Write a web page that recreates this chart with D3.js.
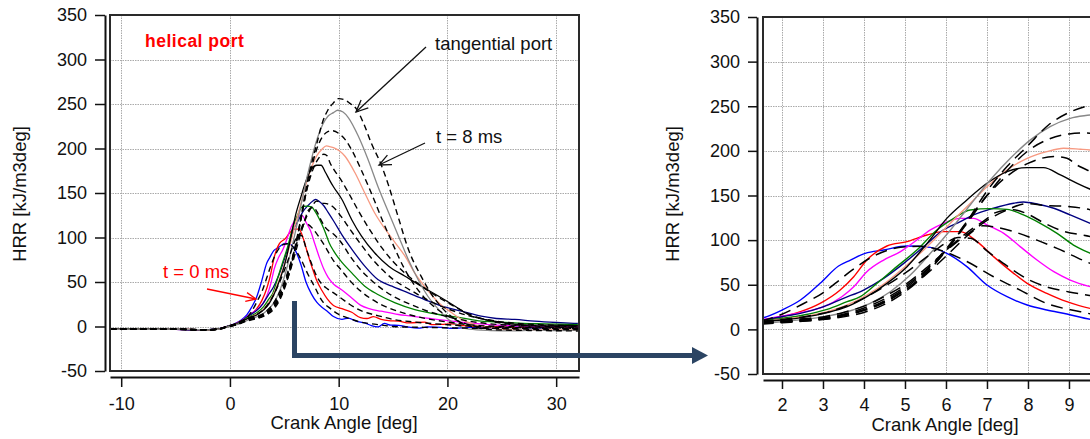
<!DOCTYPE html>
<html><head><meta charset="utf-8">
<script src="https://cdn.jsdelivr.net/npm/d3@7"></script>
<style>
html,body{margin:0;padding:0;background:#fff;overflow:hidden}
svg{display:block}
text{font-family:"Liberation Sans",Arial,sans-serif;fill:#111}
</style></head><body>
<svg id="chart" width="1090" height="439"></svg>
<script>
// Heat release rate [kJ/m3deg] vs crank angle [deg]
// Helical port runs (solid), injection timing t = 0 ... 8 ms
const helicalT0 = [[-11,-2.8],[-9,-3],[-7,-2.6],[-5,-3.2],[-3,-3.6],[-2,-3.8],[-1,-2.5],[-0.3,0],[0.5,3.5],[1.0,7],[1.55,13],[2.0,21.7],[2.45,32.9],[2.93,51.6],[3.38,71],[3.67,77.7],[4.03,85.2],[4.48,88.9],[5.05,93.4],[5.62,91.9],[6.02,85.2],[6.51,70.3],[7.0,49.7],[7.49,36.6],[7.98,27.3],[8.46,21.7],[8.95,17.2],[9.52,11.2],[10.3,8],[10.9,9.5],[11.6,6],[12.4,4],[13.0,1],[13.6,-0.5],[14.2,3.5],[14.8,1.5],[15.5,1.3],[16.3,-0.5],[17.3,-1.9],[18.2,-0.5],[19.5,-1],[20.5,-2.2],[22,-1],[24,-1.5],[26,-0.5],[28,-1.5],[30,-0.8],[32,-1]];
const helicalT1 = [[-11,-3],[-9,-2.8],[-7,-3.1],[-5,-2.9],[-3,-3.5],[-2,-3.7],[-1,-2.6],[-0.3,0],[0.5,3],[1.0,6],[1.55,10.5],[2.0,14.2],[2.45,19.8],[2.93,29.1],[3.42,44.1],[3.75,59],[4.07,77.7],[4.56,93.4],[5.05,98.3],[5.54,105.8],[5.94,109.5],[6.35,109.5],[6.76,98.3],[7.16,81.5],[7.65,62.8],[7.98,51.6],[8.46,40.4],[8.95,31],[9.52,23.5],[10.3,20],[11.2,16],[12.0,10],[12.6,9],[13.2,11],[13.9,8],[14.6,6.5],[15.5,6],[16.5,4],[17.9,5],[18.5,2.2],[19.5,2.5],[20.4,3],[21.5,1],[23,0],[25,-0.5],[26.2,-1],[28,-0.5],[30,-1],[32,-0.5]];
const helicalT2 = [[-11,-3.2],[-9,-2.9],[-7,-3],[-5,-3.3],[-3,-4],[-2,-3.6],[-1,-2.7],[-0.3,0],[0.5,2.8],[1.0,5.5],[1.55,11.2],[2.0,15],[2.45,18.7],[3.02,25.4],[3.46,36.6],[3.75,47.8],[4.07,64.6],[4.48,77.7],[4.89,87.1],[5.29,100.1],[5.62,111.4],[5.94,118.8],[6.35,124.4],[6.67,124.4],[7.0,117],[7.41,107.6],[7.81,92.7],[8.22,77.7],[8.63,64.6],[9.03,55.3],[9.52,47.8],[10.3,41],[11.2,32],[12.0,24],[12.8,20],[13.9,17.2],[15.5,13.5],[16.5,12],[17.9,9.8],[19,8],[20.4,6],[22,4],[23.8,2.2],[26,1],[28,0],[30,-0.5],[32,-0.5]];
const helicalT3 = [[-11,-3],[-9,-3.1],[-7,-2.8],[-5,-3.1],[-3,-3.7],[-2,-3.5],[-1,-2.5],[-0.3,0],[0.5,2.8],[1.0,5.5],[1.55,10.5],[2.0,14.2],[2.45,17.9],[3.02,25.4],[3.5,34.8],[3.99,44.1],[4.48,57.2],[4.97,74],[5.46,92.7],[5.94,111.4],[6.35,120.7],[6.67,128.2],[7.16,135.7],[7.65,141.3],[7.89,142.8],[8.22,140.5],[8.63,135.7],[9.03,128.2],[9.52,118.8],[10.3,103],[11.2,87],[12.4,67.8],[13.6,52.8],[14.9,45.3],[16.4,37.8],[17.9,30.3],[19.5,22.8],[21.3,17.2],[23.1,11.6],[24.5,9],[26.2,7.9],[28,6],[30,4.5],[32,3.4]];
const helicalT4 = [[-11,-3.1],[-9,-2.7],[-7,-3],[-5,-3.2],[-3,-3.6],[-2,-3.8],[-1,-2.7],[-0.3,0],[0.5,2.5],[1.0,5],[1.55,9.7],[2.0,12.3],[2.53,16.1],[3.1,22.4],[3.59,31],[3.91,36.6],[4.32,51.6],[4.8,70.3],[5.29,88.9],[5.78,111.4],[6.19,124.4],[6.59,133.8],[7.08,135.3],[7.49,134.5],[7.89,128.2],[8.3,118.8],[8.71,107.6],[9.11,94.5],[9.52,85.2],[10.3,72],[11.2,60.3],[12.4,45.3],[13.6,36],[15.2,26.6],[17,19],[19.2,13.5],[21.3,9.8],[23.1,6],[25,5],[27,3.5],[29,3],[32,2.2]];
const helicalT5 = [[-11,-2.9],[-9,-3.2],[-7,-2.9],[-5,-3],[-3,-3.5],[-2,-3.7],[-1,-2.8],[-0.3,-0.5],[0.5,2],[1.0,4.5],[1.55,8.6],[2.0,11.2],[2.53,14.2],[3.1,19.8],[3.59,27.3],[4.07,38.5],[4.56,53.4],[5.05,72.1],[5.54,92.7],[6.02,115.1],[6.51,137.5],[7.0,159.9],[7.49,178.6],[7.98,191.7],[8.46,199.2],[8.87,202.9],[9.28,201.8],[9.52,201],[10.6,191],[11.5,172.7],[12.4,150],[13.3,127.8],[14.3,109],[15.2,94],[16.1,79],[17,60],[17.9,45],[19.2,26.6],[20.4,15.4],[21.3,8],[22.5,2],[24,-1.5],[25.5,-3.5],[27,-4],[29,-3.5],[32,-4]];
const helicalT6 = [[-11,-3],[-9,-3],[-7,-2.8],[-5,-3.1],[-3,-3.6],[-2,-3.6],[-1,-2.6],[-0.3,-0.3],[0.5,2],[1.0,4.5],[1.55,8.6],[2.0,10.5],[2.53,13.5],[3.1,18.7],[3.59,25.4],[4.07,36.6],[4.56,51.6],[5.05,70.3],[5.54,96.4],[6.02,124.4],[6.51,145],[7.0,163.7],[7.49,176.8],[7.98,181.2],[8.38,181.2],[8.79,173],[9.2,163.7],[9.52,157],[10.3,142.7],[11.2,120],[12.1,101.5],[13.3,82.8],[14.6,67.8],[16.1,56.5],[17.6,45.3],[19.2,34],[20.7,22.8],[21.9,13.5],[24.3,6],[26.8,2.2],[29,1.5],[32,1]];
const helicalT8 = [[-11,-3.2],[-9,-3],[-7,-3.1],[-5,-2.8],[-3,-3.4],[-2,-3.8],[-1,-3],[-0.3,-0.8],[0.5,1.5],[1.0,3.8],[1.55,6.7],[2.0,8.6],[2.53,11.2],[3.1,14.9],[3.67,20.9],[4.15,29.1],[4.64,42.2],[5.13,60.9],[5.62,85.2],[6.11,111.4],[6.59,139.4],[7.08,167.4],[7.57,191.7],[8.06,212.3],[8.54,227.2],[9.03,236.5],[9.52,240.3],[9.9,243],[10.4,241],[10.9,234.5],[11.8,214],[12.7,187.6],[13.6,157.6],[14.6,127.8],[15.5,101.5],[16.4,75.3],[17.3,52.8],[18.2,34],[19.2,19],[20.1,7.9],[21,1],[22,-3],[24,-4.5],[26,-5],[28,-4],[30,-4.5],[32,-4]];

// Tangential port runs (dashed), same timings
const tangentialT0 = [[-11,-3],[-9,-2.7],[-7,-3.2],[-5,-3],[-3,-3.7],[-2,-3.6],[-1,-2.6],[-0.3,0],[0.5,3],[1.0,6],[1.55,10],[2.0,17],[2.53,29],[3.0,41],[3.34,53],[3.7,66],[4.15,80],[4.6,89],[4.89,92],[5.37,93],[5.9,88],[6.51,76],[7.16,59],[7.81,44],[8.46,29],[9.28,19.8],[9.8,15],[10.5,11],[11.2,8],[12,5],[13,3],[14,1.5],[15,0],[16,-0.5],[18,-1],[20,-1.5],[24,-2],[28,-2],[32,-2.5]];
const tangentialT1 = [[-11,-2.9],[-9,-3.1],[-7,-2.8],[-5,-3.1],[-3,-3.5],[-2,-3.7],[-1,-2.7],[-0.3,-0.2],[0.5,2.5],[1.0,5],[1.55,9],[2.0,11],[2.5,14],[3.0,18],[3.5,25],[4.0,35],[4.5,48],[5.0,63],[5.5,80],[6.0,97],[6.3,103],[6.6,102],[7.0,88],[7.4,74],[8.0,56],[8.5,47],[9.0,42],[9.5,38],[10.2,32],[11,25],[12,18],[13,14],[14,11],[15,8],[17,5],[20,2],[25,-1],[28,-1.5],[32,-2]];
const tangentialT2 = [[-11,-3.1],[-9,-3],[-7,-2.9],[-5,-3.2],[-3,-3.6],[-2,-3.5],[-1,-2.6],[-0.3,-0.2],[0.5,2.5],[1.0,5],[1.55,8.5],[2,10],[2.5,12],[3.0,14],[3.5,19],[4.0,26],[4.5,37],[5.0,50],[5.5,68],[6.0,88],[6.5,106],[6.9,116],[7.16,115],[7.65,109.5],[8.22,100],[8.71,90.8],[9.52,74],[10.2,64],[11,52],[12,40],[13,31],[14,24],[15,19],[16,15],[18,9],[20,5],[23,1],[27,-0.5],[32,-1]];
const tangentialT3 = [[-11,-3],[-9,-2.9],[-7,-3.1],[-5,-3],[-3,-3.6],[-2,-3.7],[-1,-2.8],[-0.3,-0.3],[0.5,2.3],[1.0,4.5],[1.55,8],[2,9],[2.5,11],[3.0,13],[3.5,17],[4.0,24],[4.5,34],[5.0,48],[5.5,66],[6.0,88],[6.5,108],[7.0,124],[7.16,130],[7.65,134],[8.0,129],[8.4,119],[8.79,111],[9.52,104],[10.2,95],[11,80],[12,64],[13,52],[14,42],[15,34],[16,28],[17,23],[18,18],[20,11],[22,6],[25,2],[28,1],[32,0]];
const tangentialT4 = [[-11,-3.2],[-9,-3],[-7,-2.8],[-5,-3.1],[-3,-3.5],[-2,-3.6],[-1,-2.7],[-0.3,-0.3],[0.5,2.3],[1.0,4.5],[1.55,7.5],[2,8.5],[2.5,10],[3.0,12],[3.5,16],[4.0,22],[4.5,31],[5.0,44],[5.5,61],[6.0,82],[6.5,104],[7.0,122],[7.5,134],[7.98,141],[8.38,139],[9.03,137.5],[9.52,134],[10.2,124],[11,110],[12,93],[13,77],[14,64],[15,53],[16,45],[17,38],[18,31],[19,25],[20,20],[22,12],[24,7],[27,3],[32,1]];
const tangentialT5 = [[-11,-2.9],[-9,-3.1],[-7,-3],[-5,-2.9],[-3,-3.6],[-2,-3.8],[-1,-2.9],[-0.3,-0.5],[0.5,2],[1.0,4],[1.55,7],[2,8.5],[2.5,10],[3.0,12],[3.5,16],[4.0,22],[4.5,32],[5.0,46],[5.5,65],[6.0,90],[6.5,120],[7.0,150],[7.5,172],[8.0,186],[8.63,193.6],[8.95,191.7],[9.2,184],[9.52,177],[10.2,165],[11,148],[12,126],[13,106],[14,88],[15,73],[16,61],[17,51],[18,42],[19,34],[20,27],[21,20],[22,14],[24,6],[26,2],[29,0],[32,-0.5]];
const tangentialT6 = [[-11,-3.1],[-9,-2.8],[-7,-3],[-5,-3.2],[-3,-3.5],[-2,-3.7],[-1,-2.9],[-0.3,-0.6],[0.5,2],[1.0,4],[1.55,7],[2,8],[2.5,9.5],[3.0,11.5],[3.5,15],[4.0,21],[4.5,30],[5.0,44],[5.5,63],[6.0,88],[6.5,118],[7.0,150],[7.5,178],[8.0,200],[8.5,213],[9.0,219],[9.4,220],[10,217],[10.6,210],[11.3,196],[12,178],[13,150],[14,120],[15,92],[16,66],[17,46],[18,31],[19,20],[20,12],[21,6],[22,2],[24,-2],[27,-3],[32,-3.5]];
const tangentialT8 = [[-11,-3],[-9,-3.2],[-7,-2.9],[-5,-3],[-3,-3.4],[-2,-3.8],[-1,-3],[-0.3,-0.8],[0.5,1.5],[1.0,3.5],[1.55,6],[2,7.5],[2.5,9],[3.0,11],[3.5,14],[4.0,19],[4.5,28],[5.0,42],[5.5,62],[6.0,88],[6.5,120],[7.0,155],[7.5,183],[8.0,206],[8.5,229],[9.0,243],[9.5,251],[9.97,256],[10.5,255],[11.0,251],[11.65,244],[12.3,228],[13.0,206],[13.9,182],[14.6,158],[15.5,122],[16.4,87],[17.6,56],[18.5,37],[19.5,21],[20.5,10],[21.5,3],[23,-2],[25,-4],[28,-4.5],[32,-5]];

const helicalColors = ["#0000ff","#ff0000","#ff00ff","#000080","#008000","#f79a82","#000000","#888888"];
const helicalRuns = [helicalT0, helicalT1, helicalT2, helicalT3, helicalT4, helicalT5, helicalT6, helicalT8];
const tangentialRuns = [tangentialT0, tangentialT1, tangentialT2, tangentialT3, tangentialT4, tangentialT5, tangentialT6, tangentialT8];

const yTicks = [-50, 0, 50, 100, 150, 200, 250, 300, 350];
const xTicksFull = [-10, 0, 10, 20, 30];
const xTicksDetail = [2, 3, 4, 5, 6, 7, 8, 9, 10];
const yTitle = "HRR [kJ/m3deg]";
const xTitle = "Crank Angle [deg]";

const svg = d3.select("#chart");
const FONT = '"Liberation Sans", Arial, sans-serif';
const plain = d => String(d); // hyphen-minus for negative ticks

const panels = [
  { id: "full", left: 110, right: 579, top: 15, bottom: 371, gap: 5, gapX: 6,
    xDomain: [-11.03, 32.1], xTicks: xTicksFull, dash: "6,4", lw: 1.3,
    titleX: 20, xTitleX: 344, xTitleY: 429, tickLen: 10, xPad: 10 },
  { id: "detail", left: 763, right: 1111, top: 17, bottom: 374, gap: 6, gapX: 6,
    xDomain: [1.537, 10.025], xTicks: xTicksDetail, dash: "12,7", lw: 1.4,
    titleX: 673, xTitleX: 945, xTitleY: 431, tickLen: 9, xPad: 9 }
];

panels.forEach(p => {
  const x = d3.scaleLinear().domain(p.xDomain).range([p.left, p.right]);
  const y = d3.scaleLinear().domain([-50, 350]).range([p.bottom, p.top]);
  const g = svg.append("g");

  g.append("clipPath").attr("id", "clip-" + p.id)
    .append("rect").attr("x", p.left).attr("y", p.top)
    .attr("width", p.right - p.left).attr("height", p.bottom - p.top);

  // grid
  const grid = g.append("g").attr("stroke", "#aaaaaa").attr("stroke-width", 1)
    .attr("stroke-dasharray", "1.5,1");
  p.xTicks.forEach(v => {
    const px = Math.round(x(v)) + 0.5;
    if (px > p.left + 1 && px < p.right - 1)
      grid.append("line").attr("x1", px).attr("x2", px).attr("y1", p.top).attr("y2", p.bottom);
  });
  yTicks.forEach(v => {
    const py = Math.round(y(v)) + 0.5;
    if (py > p.top + 1 && py < p.bottom - 1)
      grid.append("line").attr("x1", p.left).attr("x2", p.right).attr("y1", py).attr("y2", py);
  });

  const line = d3.line().x(d => x(d[0])).y(d => y(d[1])).curve(d3.curveMonotoneX);
  const curves = g.append("g").attr("clip-path", `url(#clip-${p.id})`).attr("fill", "none");
  helicalRuns.forEach((run, i) => {
    curves.append("path").attr("d", line(run))
      .attr("stroke", helicalColors[i]).attr("stroke-width", p.lw);
  });
  tangentialRuns.forEach(run => {
    curves.append("path").attr("d", line(run))
      .attr("stroke", "#000").attr("stroke-width", p.lw + 0.1)
      .attr("stroke-dasharray", p.dash);
  });

  // plot frame
  g.append("rect").attr("x", p.left).attr("y", p.top)
    .attr("width", p.right - p.left).attr("height", p.bottom - p.top)
    .attr("fill", "none").attr("stroke", "#2a2a2a").attr("stroke-width", 2);

  // offset axes
  const yAxis = d3.axisLeft(y).tickValues(yTicks).tickFormat(plain)
    .tickSize(p.tickLen).tickSizeOuter(0).tickPadding(8);
  const xAxis = d3.axisBottom(x).tickValues(p.xTicks).tickFormat(plain)
    .tickSize(p.tickLen).tickSizeOuter(0).tickPadding(p.xPad);
  const ya = g.append("g").attr("transform", `translate(${p.left - p.gap},0)`).call(yAxis);
  const xa = g.append("g").attr("transform", `translate(0,${p.bottom + p.gapX})`).call(xAxis);
  [ya, xa].forEach(a => {
    a.select(".domain").attr("stroke", "#111").attr("stroke-width", 2);
    a.selectAll(".tick line").attr("stroke", "#111").attr("stroke-width", 1.5);
    a.selectAll(".tick text").attr("font-family", FONT).attr("font-size", 18).attr("fill", "#111");
  });
  xa.selectAll(".tick").filter(d => x(d) > 1090).remove();

  g.append("text").attr("transform", `translate(${p.titleX + 6},194) rotate(-90)`)
    .attr("text-anchor", "middle").attr("font-size", 18.5).text(yTitle);
  g.append("text").attr("x", p.xTitleX).attr("y", p.xTitleY)
    .attr("text-anchor", "middle").attr("font-size", 18.5).text(xTitle);
});

// annotations
function pointer(x1, y1, x2, y2, color, len) {
  const a = Math.atan2(y2 - y1, x2 - x1);
  const s = 0.42;
  const gg = svg.append("g").attr("stroke", color).attr("stroke-width", 1.3).attr("fill", "none");
  gg.append("line").attr("x1", x1).attr("y1", y1).attr("x2", x2).attr("y2", y2);
  gg.append("path").attr("d",
    `M${x2 - len * Math.cos(a - s)},${y2 - len * Math.sin(a - s)}L${x2},${y2}L${x2 - len * Math.cos(a + s)},${y2 - len * Math.sin(a + s)}`);
}

svg.append("text").attr("x", 145).attr("y", 47).attr("font-size", 17.5)
  .attr("font-weight", "bold").attr("letter-spacing", 0.5).style("fill", "#ff0000").text("helical port");
svg.append("text").attr("x", 435).attr("y", 50).attr("font-size", 18.5).text("tangential port");
pointer(426, 47, 356, 112, "#111", 13);
svg.append("text").attr("x", 436).attr("y", 143).attr("font-size", 18.5).text("t = 8 ms");
pointer(425, 143, 379, 165, "#111", 13);
svg.append("text").attr("x", 163).attr("y", 278).attr("font-size", 18.5).style("fill", "#ff0000").text("t = 0 ms");
pointer(207, 289, 256, 299, "#ff0000", 11);

// link arrow from the full range to the detail view
const navy = "#2b4463";
svg.append("path").attr("d", "M294.5,301V355.5H694").attr("fill", "none")
  .attr("stroke", navy).attr("stroke-width", 5);
svg.append("path").attr("d", "M692,347L708,355.5L692,364Z").attr("fill", navy);
</script>
</body></html>
